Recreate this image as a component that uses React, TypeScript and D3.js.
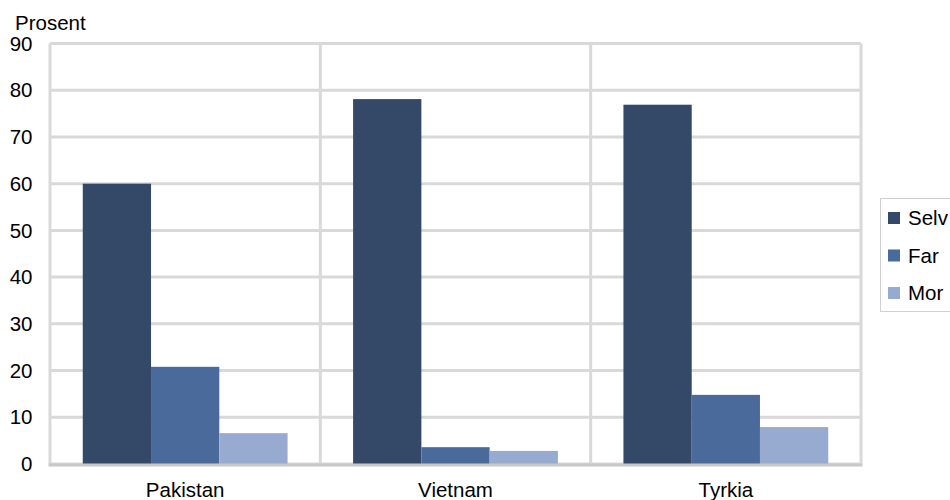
import React from "react";
import * as d3 from "d3";

const categories = ["Pakistan", "Vietnam", "Tyrkia"];
const seriesNames = ["Selv", "Far", "Mor"];
const selv = [60, 78.1, 76.9];
const far = [20.8, 3.6, 14.8];
const mor = [6.6, 2.8, 7.9];
const yTicks = [0, 10, 20, 30, 40, 50, 60, 70, 80, 90];
const colors = ["#344868", "#4a6a9c", "#97abd0"];

export default function App() {
  const W = 950, H = 500;
  const left = 50, right = 861, top = 43.5, bottom = 464;
  const x = d3.scaleBand().domain(categories).range([left, right]).paddingInner(0).paddingOuter(0);
  const x1 = d3.scaleBand().domain(seriesNames).range([0, x.bandwidth()]).paddingInner(0).paddingOuter(0.48);
  const y = d3.scaleLinear().domain([0, 90]).range([bottom, top]);
  const series = [selv, far, mor];
  const font = "Liberation Sans, Arial, sans-serif";
  const fs = 20.5;
  return (
    <svg width={W} height={H} style={{ position: "absolute", left: 0, top: 0 }} fontFamily={font}>
      <rect width={W} height={H} fill="#fff" />
      {yTicks.map((t) => (
        <line key={"g" + t} x1={left} x2={right} y1={y(t)} y2={y(t)} stroke="#d9d9d9" strokeWidth={3} />
      ))}
      {categories.map((c) => (
        <line key={"v" + c} x1={x(c) as number} x2={x(c) as number} y1={top} y2={bottom} stroke="#d9d9d9" strokeWidth={3} />
      ))}
      <line x1={right} x2={right} y1={top} y2={bottom} stroke="#d9d9d9" strokeWidth={3} />
      {series.map((vals, si) =>
        categories.map((c, ci) => (
          <rect
            key={si + "-" + ci}
            x={(x(c) as number) + (x1(seriesNames[si]) as number)}
            y={y(vals[ci])}
            width={x1.bandwidth()}
            height={bottom - y(vals[ci])}
            fill={colors[si]}
          />
        ))
      )}
      <line x1={left - 1.5} x2={right + 1.5} y1={bottom + 1} y2={bottom + 1} stroke="#c8c8c8" strokeWidth={3} />
      {yTicks.map((t) => (
        <text key={"t" + t} x={32.5} y={y(t)} dy="0.35em" textAnchor="end" fontSize={fs} fill="#000">
          {t}
        </text>
      ))}
      <text x={15} y={30} fontSize={fs} fill="#000">Prosent</text>
      {categories.map((c) => (
        <text key={"c" + c} x={(x(c) as number) + x.bandwidth() / 2} y={497} textAnchor="middle" fontSize={fs} fill="#000">
          {c}
        </text>
      ))}
      <rect x={880.5} y={198.5} width={80} height={113} fill="#fff" stroke="#d0d0d0" strokeWidth={1} />
      {seriesNames.map((s, i) => (
        <g key={"l" + s} transform={`translate(888, ${212 + i * 37.5})`}>
          <rect width={12} height={12} fill={colors[i]} />
          <text x={20} y={6} dy="0.35em" fontSize={fs} fill="#000">{s}</text>
        </g>
      ))}
    </svg>
  );
}
